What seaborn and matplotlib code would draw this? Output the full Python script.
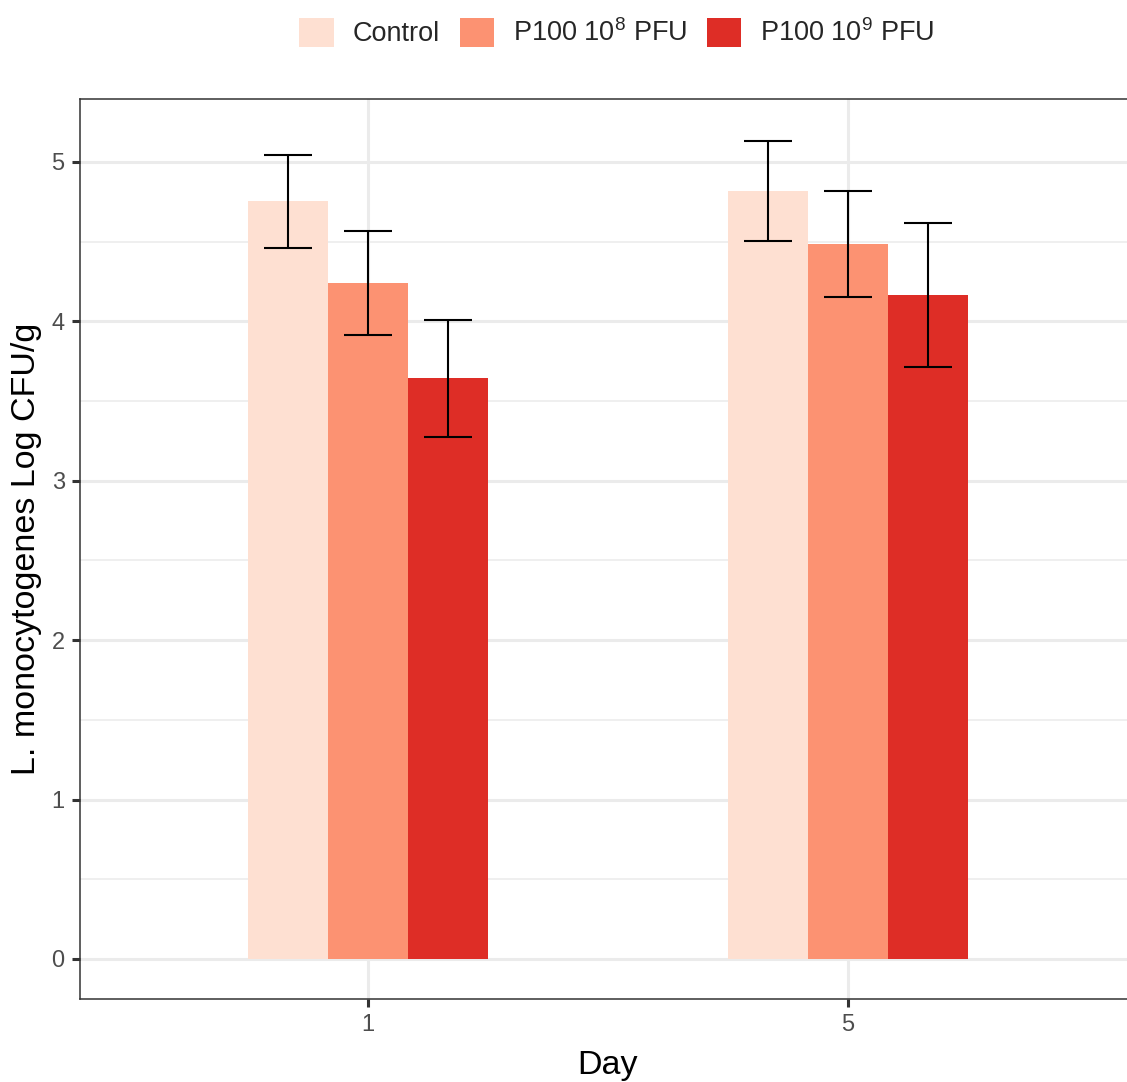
import matplotlib
matplotlib.use("Agg")
import matplotlib.pyplot as plt
import seaborn as sns
import pandas as pd
import numpy as np
from matplotlib.patches import Patch

days = ["1", "5"]
treatments = ["Control", "P100 10^8 PFU", "P100 10^9 PFU"]
legend_labels = ["Control", r"P100 10$^{8}$ PFU", r"P100 10$^{9}$ PFU"]
means_day1 = [4.753, 4.239, 3.642]
means_day5 = [4.816, 4.484, 4.168]
err_day1 = [0.293, 0.325, 0.365]
err_day5 = [0.313, 0.332, 0.452]
colors = ["#FEE0D2", "#FC9272", "#DE2D26"]

rows = []
for d, ms, es in [("1", means_day1, err_day1), ("5", means_day5, err_day5)]:
    for t, m, e in zip(treatments, ms, es):
        rows.append({"Day": d, "Treatment": t, "mean": m, "err": e})
df = pd.DataFrame(rows)

sns.set_theme(style="white")
plt.rcParams["font.family"] = ["Liberation Sans", "DejaVu Sans"]
plt.rcParams["mathtext.fontset"] = "custom"
plt.rcParams["mathtext.rm"] = "Liberation Sans"
plt.rcParams["mathtext.it"] = "Liberation Sans"
plt.rcParams["mathtext.default"] = "regular"

fig = plt.figure(figsize=(11.27, 10.82), dpi=100)
ax = fig.add_axes([80/1127, 1-999/1082, 1056/1127, 900/1082])

sns.barplot(data=df, x="Day", y="mean", hue="Treatment", order=days,
            hue_order=treatments, palette=colors, width=0.5, gap=0,
            errorbar=None, saturation=1, ax=ax, legend=False, zorder=2,
            linewidth=0)

for cont, t in zip(ax.containers, treatments):
    sub = df[df.Treatment == t].set_index("Day").loc[days]
    xs = [b.get_x() + b.get_width()/2 for b in cont]
    ax.errorbar(xs, sub["mean"].values, yerr=sub["err"].values, fmt="none",
                ecolor="black", elinewidth=1.5, capsize=17.3, capthick=1.5,
                zorder=3)

ax.set_xlim(-0.6, 1.6)
ax.set_ylim(-0.251, 5.395)
ax.set_yticks([0, 1, 2, 3, 4, 5])
ax.set_yticks(np.arange(0.5, 5.5, 1.0), minor=True)
ax.grid(True, which="major", color="#EBEBEB", linewidth=2.2, zorder=0)
ax.grid(True, which="minor", axis="y", color="#EBEBEB", linewidth=1.1, zorder=0)
ax.set_axisbelow(True)
for s in ax.spines.values():
    s.set_color("#333333")
    s.set_linewidth(1.1)
ax.tick_params(axis="both", which="major", length=6, width=2.2, color="#333333",
               labelsize=17, labelcolor="#4D4D4D", pad=5, left=True, bottom=True)
ax.tick_params(axis="both", which="minor", length=0)
ax.set_xlabel("Day", fontsize=24.5, color="black", labelpad=10)
ax.set_ylabel("L. monocytogenes Log CFU/g", fontsize=24.5, color="black", labelpad=7)

handles = [Patch(facecolor=c, edgecolor="none") for c in colors]
fig.legend(handles, legend_labels, loc="center", bbox_to_anchor=(0.5475, 0.970),
           ncol=3, frameon=False, fontsize=19.5, handlelength=1.26, handleheight=1.26,
           handletextpad=0.7, columnspacing=0.74)

fig.savefig("out.png", dpi=100)
